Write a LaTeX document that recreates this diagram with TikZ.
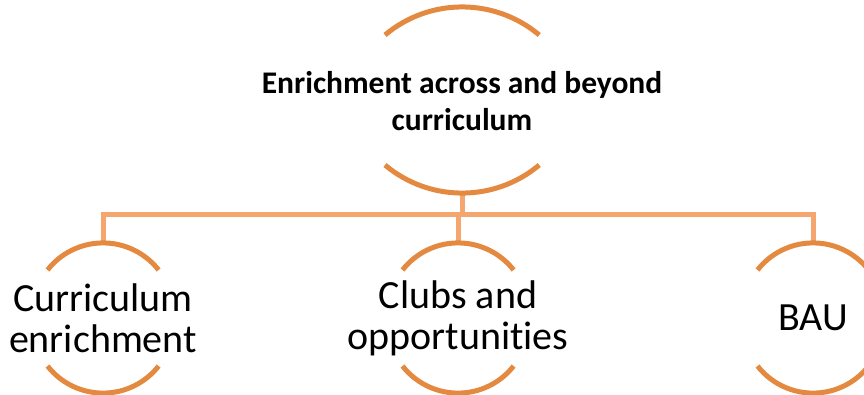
\documentclass[tikz,border=0pt]{standalone}
\usepackage{fontspec}
\setmainfont{Carlito}[Ligatures=NoCommon]
\definecolor{arcorange}{RGB}{228,138,64}
\definecolor{lineorange}{RGB}{245,165,110}

\begin{document}
\begin{tikzpicture}[x=1pt, y=1pt,
  arcline/.style={draw=arcorange, line width=5pt},
  conn/.style={draw=lineorange, line width=5pt},
  topbox/.style={rectangle, minimum height=186pt, inner sep=0pt, align=center,
    font=\fontsize{31.5}{37}\selectfont\bfseries},
  leafbox/.style={rectangle, minimum height=150pt, inner sep=0pt, align=center,
    font=\fontsize{40}{41}\selectfont}]
\useasboundingbox (0,0) rectangle (864,-394);
\clip (0,0) rectangle (864,-394);
% nodes
\node[topbox] (top) at (462,-101) {Enrichment across and beyond\\curriculum};
\node[leafbox] (c1) at (103,-318) {Curriculum\\enrichment};
\node[leafbox] (c2) at (458,-318) {Clubs and\\opportunities};
\node[leafbox] (c3) at (813,-318) {BAU};
% connectors
\foreach \c in {c1,c2,c3}
  \draw[conn] (top.south) -- ++(0,-20) -| (\c.north);
% arcs
\draw[arcline] (top.center) ++(-77,66) arc[start angle=130, end angle=50, radius=120];
\draw[arcline] (top.center) ++(-77,-64) arc[start angle=230, end angle=310, radius=120];
\foreach \n in {c1,c2,c3} {
  \draw[arcline] (\n.center) ++(-55.5,48) arc[start angle=142, end angle=38, radius=70.5];
  \draw[arcline] (\n.center) ++(-55.5,-48) arc[start angle=218, end angle=322, radius=70.5];
}
\end{tikzpicture}
\end{document}
